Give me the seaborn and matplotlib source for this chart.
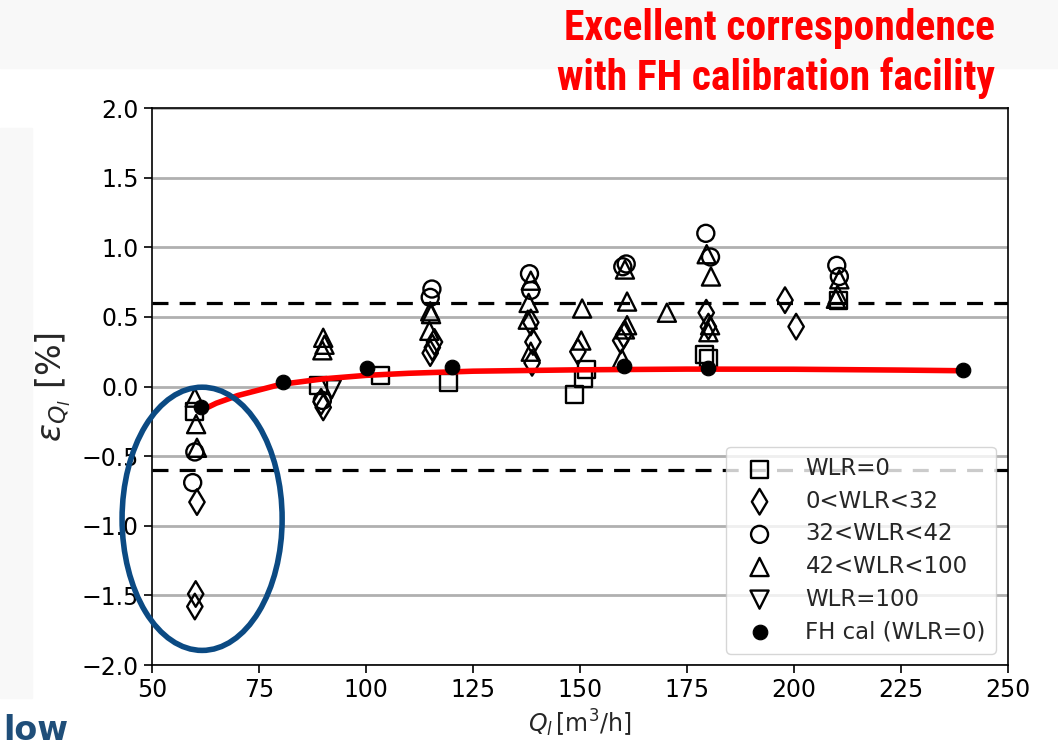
import numpy as np
import pandas as pd
import matplotlib
matplotlib.use("Agg")
import matplotlib.pyplot as plt
import seaborn as sns
from matplotlib.patches import Ellipse, Rectangle
from matplotlib import font_manager

# ---------------- data ----------------
wlr0_x = [60.0, 88.8, 103.3, 119.2, 148.8, 150.8, 151.6, 179.0, 180.0, 210.5]
wlr0_y = [-0.18, 0.01, 0.08, 0.03, -0.06, 0.06, 0.12, 0.23, 0.20, 0.62]

wlr0_32_x = [60.5, 60.2, 60.0, 89.5, 90.0, 115.0, 115.5, 116.0, 138.5, 139.0, 138.8,
             149.5, 159.5, 160.2, 179.5, 180.0, 197.9, 200.5]
wlr0_32_y = [-0.83, -1.49, -1.58, -0.11, -0.15, 0.24, 0.28, 0.32, 0.46, 0.32, 0.17,
             0.25, 0.33, 0.37, 0.53, 0.43, 0.62, 0.43]

wlr32_42_x = [60.0, 59.5, 89.8, 115.4, 115.0, 138.2, 138.5, 160.0, 160.8, 179.4, 180.5, 210.0, 210.6]
wlr32_42_y = [-0.47, -0.69, -0.10, 0.70, 0.64, 0.81, 0.69, 0.86, 0.88, 1.10, 0.93, 0.87, 0.79]

wlr42_100_x = [60.0, 60.3, 60.5, 90.0, 90.3, 89.8, 115.0, 115.2, 114.8, 138.5, 138.0,
               137.8, 138.5, 150.5, 150.3, 160.5, 161.0, 161.0, 160.5, 159.8, 170.3,
               179.6, 180.6, 180.4, 180.0, 210.6, 210.2, 209.8]
wlr42_100_y = [-0.08, -0.27, -0.44, 0.35, 0.30, 0.26, 0.54, 0.52, 0.40, 0.76, 0.60,
               0.48, 0.25, 0.56, 0.33, 0.84, 0.61, 0.44, 0.41, 0.20, 0.53,
               0.95, 0.79, 0.44, 0.39, 0.77, 0.66, 0.63]

wlr100_x = [92.0]
wlr100_y = [-0.02]

fh_x = [61.5, 80.6, 100.2, 120.1, 160.2, 180.0, 239.5]
fh_y = [-0.15, 0.03, 0.13, 0.14, 0.15, 0.13, 0.12]

curve_x = [61, 65, 70, 75, 80, 90, 100, 110, 125, 150, 175, 200, 225, 240]
curve_y = [-0.18, -0.12, -0.065, -0.025, 0.015, 0.055, 0.08, 0.095, 0.11, 0.12, 0.125, 0.124, 0.118, 0.113]

band = [-0.6, 0.6]
yticks = [-2.0, -1.5, -1.0, -0.5, 0.0, 0.5, 1.0, 1.5, 2.0]
xticks = [50, 75, 100, 125, 150, 175, 200, 225, 250]

# ---------------- figure ----------------
sns.set_style("white")
plt.rcParams['font.family'] = ['DejaVu Sans']

title_family = "Liberation Sans"
names = {f.name for f in font_manager.fontManager.ttflist}
for cand in ["Liberation Sans Narrow", "Roboto Condensed", "Open Sans Condensed",
             "Noto Sans Condensed", "DejaVu Sans Condensed"]:
    if cand in names:
        title_family = cand
        break
title_size = 30 if ("Narrow" in title_family or "Condensed" in title_family) else 24

fig = plt.figure(figsize=(10.58, 7.5), dpi=100)
fig.patches.append(Rectangle((0, 0.91), 1, 0.09, transform=fig.transFigure,
                             color="#f8f8f8", zorder=-10))
fig.patches.append(Rectangle((0, 0.07), 0.03, 0.76, transform=fig.transFigure,
                             color="#f8f8f8", zorder=-10))
ax = fig.add_axes([0.1437, 0.1133, 0.8090, 0.7427])

ax.set_yticks(yticks)
ax.yaxis.grid(True, color="#b0b0b0", linewidth=2.0, zorder=0)
ax.xaxis.grid(False)
ax.set_axisbelow(True)

for b in band:
    ax.axhline(b, color="black", linestyle=(0, (5, 3.5)), linewidth=2.3, zorder=1)

mk = dict(facecolor="none", edgecolor="black", linewidth=1.7, zorder=3)
sns.scatterplot(x=wlr0_x, y=wlr0_y, marker="s", s=150, label="WLR=0", ax=ax, **mk)
sns.scatterplot(x=wlr0_32_x, y=wlr0_32_y, marker="d", s=170, label="0<WLR<32", ax=ax, **mk)
sns.scatterplot(x=wlr32_42_x, y=wlr32_42_y, marker="o", s=150, label="32<WLR<42", ax=ax, **mk)
sns.scatterplot(x=wlr42_100_x, y=wlr42_100_y, marker="^", s=170, label="42<WLR<100", ax=ax, **mk)
sns.scatterplot(x=wlr100_x, y=wlr100_y, marker="v", s=170, label="WLR=100", ax=ax, **mk)
sns.lineplot(x=curve_x, y=curve_y, color="red", linewidth=4, ax=ax, zorder=4, legend=False)
sns.scatterplot(x=fh_x, y=fh_y, marker="o", s=110, color="black", edgecolor="black",
                label="FH cal (WLR=0)", ax=ax, zorder=5)

ax.set_xlim(50, 250)
ax.set_ylim(-2.0, 2.0)
ax.set_xticks(xticks)
ax.tick_params(axis="both", labelsize=17, length=6, width=1.2, direction="out",
               bottom=True, left=True, colors="black")
for sp in ax.spines.values():
    sp.set_color("black")
    sp.set_linewidth(1.2)

ax.set_xlabel(r"$Q_l\,[\mathrm{m^3/h}]$", fontsize=17, labelpad=4)
ax.set_ylabel(r"$\varepsilon_{Q_l}$ [%]", fontsize=24, labelpad=6)

leg = ax.legend(loc="lower right", fontsize=16.5, frameon=True, framealpha=0.8,
                borderpad=0.45, labelspacing=0.42, handletextpad=1.0,
                bbox_to_anchor=(0.9995, 0.0))
leg.get_frame().set_edgecolor("#cccccc")

ell = Ellipse((61.7, -0.95), 37.4, 1.89, fill=False, edgecolor="#0b4a83",
              linewidth=4, clip_on=False, zorder=6)
ax.add_patch(ell)

fig.text(0.94, 0.962, "Excellent correspondence", ha="right", va="center",
         color="red", fontsize=title_size, fontweight="bold",
         family=[title_family, "DejaVu Sans"])
fig.text(0.94, 0.896, "with FH calibration facility", ha="right", va="center",
         color="red", fontsize=title_size, fontweight="bold",
         family=[title_family, "DejaVu Sans"])
fig.text(0.003, 0.004, "low", ha="left", va="bottom", color="#1f4e79",
         fontsize=24, fontweight="bold")

fig.savefig("out.png", dpi=100)
